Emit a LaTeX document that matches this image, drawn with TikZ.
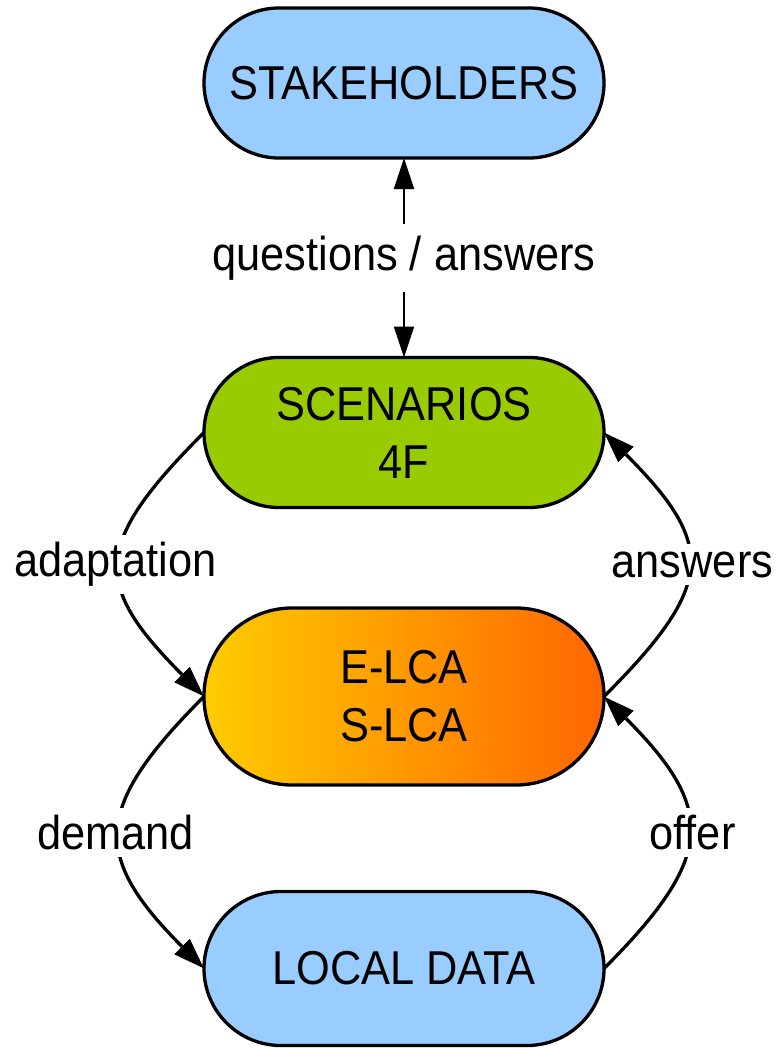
\documentclass[tikz,border=0pt]{standalone}
\usepackage{fontspec}
\setmainfont{Liberation Sans}[FakeStretch=0.913]
\usetikzlibrary{arrows.meta}
\definecolor{lblue}{HTML}{99CCFF}
\definecolor{lgreen}{HTML}{99CC00}
\definecolor{gyel}{HTML}{FFCC00}
\definecolor{gora}{HTML}{FF6600}
\begin{document}
\begin{tikzpicture}[x=1pt,y=1pt,
  box/.style={rectangle, draw=black, line width=3.3pt, minimum width=400pt, minimum height=150pt, rounded corners=75pt, align=center, font=\fontsize{47.5}{58}\selectfont, inner sep=0pt, outer sep=0pt},
  lab/.style={fill=white, font=\fontsize{47.5}{52}\selectfont, inner xsep=2pt, inner ysep=7pt},
  conn/.style={line width=3.3pt, -{Triangle[length=31pt,width=21pt]}},
  vconn/.style={line width=2.3pt, {Triangle[length=31pt,width=20pt]}-{Triangle[length=31pt,width=20pt]}},
]
\useasboundingbox (0,0) rectangle (777,-1049);
\node[box, fill=lblue] (stake) at (404,-83) {STAKEHOLDERS};
\node[box, fill=lgreen] (scen) at (404,-432.5) {SCENARIOS\\4F};
\node[box, minimum height=177pt, rounded corners=88pt, left color=gyel, right color=gora] (elca) at (404,-696.5) {E-LCA\\S-LCA};
\node[box, minimum height=154pt, rounded corners=77pt, fill=lblue] (local) at (404,-968.5) {LOCAL DATA};

\draw[vconn] (stake.south) -- node[lab, inner ysep=12pt]{questions / answers} (scen.north);
\draw[conn] (scen.west) .. controls +(-112,-112) and +(-112,112) .. node[lab, xshift=-4.5pt]{adaptation} (elca.west);
\draw[conn] (elca.east) .. controls +(112,112) and +(112,-112) .. node[lab, xshift=4.5pt]{answers} (scen.east);
\draw[conn] (elca.west) .. controls +(-112,-112) and +(-112,112) .. node[lab, xshift=-4.5pt]{demand} (local.west);
\draw[conn] (local.east) .. controls +(112,112) and +(112,-112) .. node[lab, xshift=4.5pt]{offer} (elca.east);
\end{tikzpicture}
\end{document}
